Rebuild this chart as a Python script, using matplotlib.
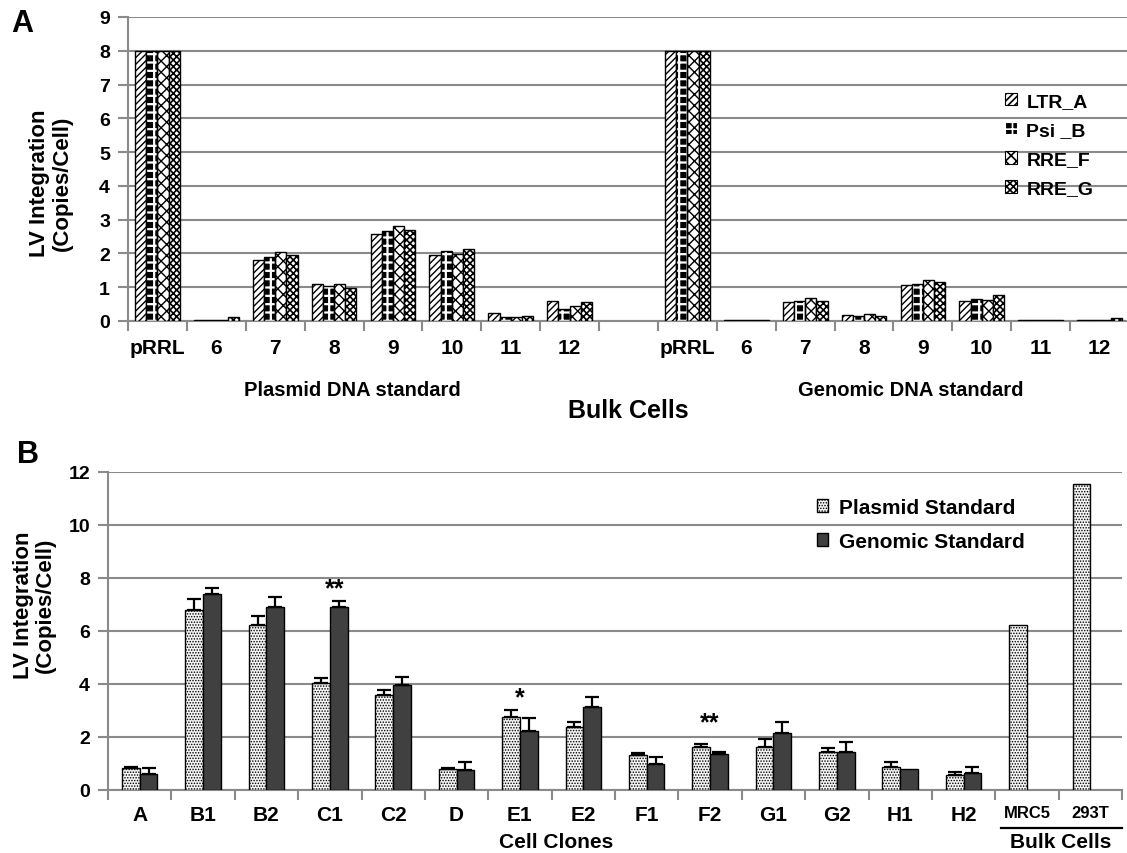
import matplotlib
matplotlib.use('Agg')
import matplotlib.pyplot as plt
import numpy as np
from matplotlib.patches import Patch
from matplotlib.lines import Line2D

# ---------------- data: panel A ----------------
a_groups = ['Plasmid DNA standard', 'Genomic DNA standard']
a_categories = ['pRRL', '6', '7', '8', '9', '10', '11', '12']
a_series = ['LTR_A', 'Psi _B', 'RRE_F', 'RRE_G']

plasmid_LTR_A = [8, 0.04, 1.81, 1.09, 2.57, 1.94, 0.24, 0.59]
plasmid_Psi_B = [8, 0.04, 1.89, 1.04, 2.66, 2.06, 0.12, 0.36]
plasmid_RRE_F = [8, 0.04, 2.04, 1.09, 2.81, 1.99, 0.12, 0.44]
plasmid_RRE_G = [8, 0.12, 1.94, 0.99, 2.69, 2.14, 0.16, 0.56]

genomic_LTR_A = [8, 0.03, 0.56, 0.19, 1.06, 0.59, 0.03, 0.04]
genomic_Psi_B = [8, 0.03, 0.59, 0.16, 1.11, 0.66, 0.03, 0.04]
genomic_RRE_F = [8, 0.03, 0.67, 0.21, 1.21, 0.62, 0.03, 0.04]
genomic_RRE_G = [8, 0.03, 0.59, 0.16, 1.14, 0.76, 0.03, 0.08]

# ---------------- data: panel B ----------------
b_categories = ['A', 'B1', 'B2', 'C1', 'C2', 'D', 'E1', 'E2', 'F1', 'F2',
                'G1', 'G2', 'H1', 'H2', 'MRC5', '293T']
b_series = ['Plasmid Standard', 'Genomic Standard']
plasmid_std = [0.82, 6.79, 6.21, 4.03, 3.58, 0.78, 2.77, 2.38, 1.31, 1.64,
               1.64, 1.45, 0.87, 0.57, 6.23, 11.55]
plasmid_err = [0.06, 0.40, 0.35, 0.21, 0.21, 0.06, 0.25, 0.19, 0.10, 0.11,
               0.28, 0.15, 0.20, 0.11, 0.0, 0.0]
genomic_std = [0.62, 7.38, 6.90, 6.90, 3.95, 0.75, 2.23, 3.14, 0.97, 1.35,
               2.14, 1.45, 0.80, 0.65, np.nan, np.nan]
genomic_err = [0.20, 0.25, 0.39, 0.23, 0.33, 0.31, 0.49, 0.38, 0.29, 0.10,
               0.43, 0.36, 0.0, 0.23, 0.0, 0.0]
sig_categories = ['C1', 'E1', 'F2']
sig_marks = ['**', '*', '**']
sig_levels = [7.62, 3.50, 2.56]

# ---------------- figure ----------------
W, H = 1127, 854
plt.rcParams['font.family'] = ['Liberation Sans', 'DejaVu Sans']
plt.rcParams['font.weight'] = 'bold'
fig = plt.figure(figsize=(W / 100, H / 100), dpi=100)

def fx(px):
    return px / W

def fy(py):
    return 1 - py / H

GRID = '#8a8a8a'

def set_hlw(container, lw):
    for p in container:
        if hasattr(p, 'set_hatch_linewidth'):
            p.set_hatch_linewidth(lw)

# ================= Panel A =================
axA = fig.add_axes([fx(128), fy(322), fx(1129) - fx(128), fy(18) - fy(322)])
xa = np.concatenate([np.arange(8), np.arange(9, 17)]).astype(float)
bw = 0.19
a_vals = [plasmid_LTR_A + genomic_LTR_A, plasmid_Psi_B + genomic_Psi_B,
          plasmid_RRE_F + genomic_RRE_F, plasmid_RRE_G + genomic_RRE_G]
offs = [-1.5, -0.5, 0.5, 1.5]

plt.rcParams['hatch.linewidth'] = 1.0
b0 = axA.bar(xa + offs[0] * bw, a_vals[0], bw, facecolor='white', edgecolor='black',
             hatch='/////', linewidth=1.0, zorder=3)
set_hlw(b0, 1.0)
plt.rcParams['hatch.linewidth'] = 1.6
b1 = axA.bar(xa + offs[1] * bw, a_vals[1], bw, facecolor='black', edgecolor='white',
             hatch='++', linewidth=0, zorder=3)
set_hlw(b1, 1.6)
axA.bar(xa + offs[1] * bw, a_vals[1], bw, fill=False, edgecolor='black',
        linewidth=1.0, zorder=4)
plt.rcParams['hatch.linewidth'] = 1.0
b2 = axA.bar(xa + offs[2] * bw, a_vals[2], bw, facecolor='white', edgecolor='black',
             hatch='xxx', linewidth=1.0, zorder=3)
set_hlw(b2, 1.0)
plt.rcParams['hatch.linewidth'] = 1.2
b3 = axA.bar(xa + offs[3] * bw, a_vals[3], bw, facecolor='white', edgecolor='black',
             hatch='xxxxx', linewidth=1.0, zorder=3)
set_hlw(b3, 1.2)

axA.set_ylim(0, 9)
axA.set_xlim(-0.5, 16.5)
axA.set_yticks(range(0, 10))
axA.yaxis.grid(True, color=GRID, linewidth=1.5, zorder=0)
axA.set_axisbelow(True)
for s in ['top', 'right']:
    axA.spines[s].set_visible(False)
axA.spines['left'].set_color(GRID)
axA.spines['left'].set_linewidth(1.5)
axA.spines['bottom'].set_color(GRID)
axA.spines['bottom'].set_linewidth(1.5)
axA.tick_params(axis='y', colors=GRID, length=7, width=1.5, labelcolor='black',
                labelsize=14, pad=6)
axA.set_xticks(np.arange(17))
axA.set_xticklabels(a_categories + [''] + a_categories, fontsize=15, fontweight='bold')
axA.tick_params(axis='x', which='major', length=0, pad=12)
axA.set_xticks(np.arange(-0.5, 17.0, 1.0), minor=True)
axA.tick_params(axis='x', which='minor', length=7, width=1.5, colors=GRID)
for t in axA.get_yticklabels():
    t.set_fontweight('bold')

fig.text(fx(352), fy(391), a_groups[0], ha='center', va='center', fontsize=14.5,
         fontweight='bold')
fig.text(fx(911), fy(391), a_groups[1], ha='center', va='center', fontsize=14.5,
         fontweight='bold')
fig.text(fx(628), fy(411), 'Bulk Cells', ha='center', va='center', fontsize=18,
         fontweight='bold')
fig.text(fx(40), fy(183), 'LV Integration', rotation=90, ha='center', va='center',
         fontsize=16, fontweight='bold')
fig.text(fx(62), fy(183), '(Copies/Cell)', rotation=90, ha='center', va='center',
         fontsize=16, fontweight='bold')
fig.text(fx(22), fy(24), 'A', ha='center', va='center', fontsize=22, fontweight='bold')

hA = [Patch(facecolor='white', edgecolor='black', hatch='/////', linewidth=0.8),
      Patch(facecolor='black', edgecolor='white', hatch='++', linewidth=0.8),
      Patch(facecolor='white', edgecolor='black', hatch='xxx', linewidth=0.8),
      Patch(facecolor='white', edgecolor='black', hatch='xxxxx', linewidth=0.8)]
legA = fig.legend(hA, a_series, loc='upper left',
                  bbox_to_anchor=(fx(1005), fy(94)), bbox_transform=fig.transFigure,
                  frameon=False, fontsize=14, handlelength=0.6, handleheight=0.6,
                  handletextpad=0.5, labelspacing=0.62, borderpad=0, borderaxespad=0)
for t in legA.get_texts():
    t.set_fontweight('bold')

# ================= Panel B =================
axB = fig.add_axes([fx(108), fy(791), fx(1122) - fx(108), fy(473) - fy(791)])
xb = np.arange(len(b_categories)).astype(float)
wb = 0.28
plt.rcParams['hatch.linewidth'] = 0.7
pb = axB.bar(xb - wb / 2, plasmid_std, wb, facecolor='#f4f4f4', edgecolor='black',
             hatch='......', linewidth=1.0, zorder=3, label=b_series[0])
set_hlw(pb, 0.7)
gb = axB.bar(xb + wb / 2, genomic_std, wb, facecolor='#404040', edgecolor='black',
             linewidth=1.0, zorder=3, label=b_series[1])

pe = np.array(plasmid_err)
ge = np.array(genomic_err)
pm = pe > 0
gm = ge > 0
axB.errorbar((xb - wb / 2)[pm], np.array(plasmid_std)[pm],
             yerr=[np.zeros(pm.sum()), pe[pm]], fmt='none', ecolor='black',
             elinewidth=1.6, capsize=5, capthick=1.6, zorder=5)
axB.errorbar((xb + wb / 2)[gm], np.array(genomic_std)[gm],
             yerr=[np.zeros(gm.sum()), ge[gm]], fmt='none', ecolor='black',
             elinewidth=1.6, capsize=5, capthick=1.6, zorder=5)

for cat, mark, lev in zip(sig_categories, sig_marks, sig_levels):
    i = b_categories.index(cat)
    dx = 0.08 if cat == 'C1' else 0.0
    axB.text(i + dx, lev, mark, ha='center', va='center', fontsize=18,
             fontweight='bold')

axB.set_ylim(0, 12)
axB.set_xlim(-0.5, 15.5)
axB.set_yticks(range(0, 13, 2))
axB.yaxis.grid(True, color=GRID, linewidth=1.5, zorder=0)
axB.set_axisbelow(True)
for s in ['top', 'right']:
    axB.spines[s].set_visible(False)
axB.spines['left'].set_color(GRID)
axB.spines['left'].set_linewidth(1.5)
axB.spines['bottom'].set_color(GRID)
axB.spines['bottom'].set_linewidth(1.5)
axB.tick_params(axis='y', colors=GRID, length=7, width=1.5, labelcolor='black',
                labelsize=14, pad=6)
for t in axB.get_yticklabels():
    t.set_fontweight('bold')
axB.set_xticks(xb)
axB.set_xticklabels(b_categories, fontsize=15, fontweight='bold')
axB.tick_params(axis='x', which='major', length=0, pad=11)
for t in axB.get_xticklabels():
    if t.get_text() in ('MRC5', '293T'):
        t.set_fontsize(12)
axB.set_xticks(np.arange(-0.5, 16.0, 1.0), minor=True)
axB.tick_params(axis='x', which='minor', length=7, width=1.5, colors=GRID)

fig.text(fx(556), fy(843), 'Cell Clones', ha='center', va='center', fontsize=15,
         fontweight='bold')
fig.text(fx(1061), fy(843), 'Bulk Cells', ha='center', va='center', fontsize=15,
         fontweight='bold')
fig.add_artist(Line2D([fx(1001), fx(1122)], [fy(829), fy(829)],
                      transform=fig.transFigure, color='black', linewidth=1.6))
fig.text(fx(24), fy(605), 'LV Integration', rotation=90, ha='center', va='center',
         fontsize=16, fontweight='bold')
fig.text(fx(45), fy(605), '(Copies/Cell)', rotation=90, ha='center', va='center',
         fontsize=16, fontweight='bold')
fig.text(fx(28), fy(455), 'B', ha='center', va='center', fontsize=22, fontweight='bold')

legB = axB.legend(loc='upper left', bbox_to_anchor=(fx(817), fy(499)),
                  bbox_transform=fig.transFigure, frameon=False, fontsize=15,
                  handlelength=0.55, handleheight=0.55, handletextpad=0.5,
                  labelspacing=0.72, borderpad=0, borderaxespad=0)
for t in legB.get_texts():
    t.set_fontweight('bold')

fig.savefig('out.png', dpi=100)
